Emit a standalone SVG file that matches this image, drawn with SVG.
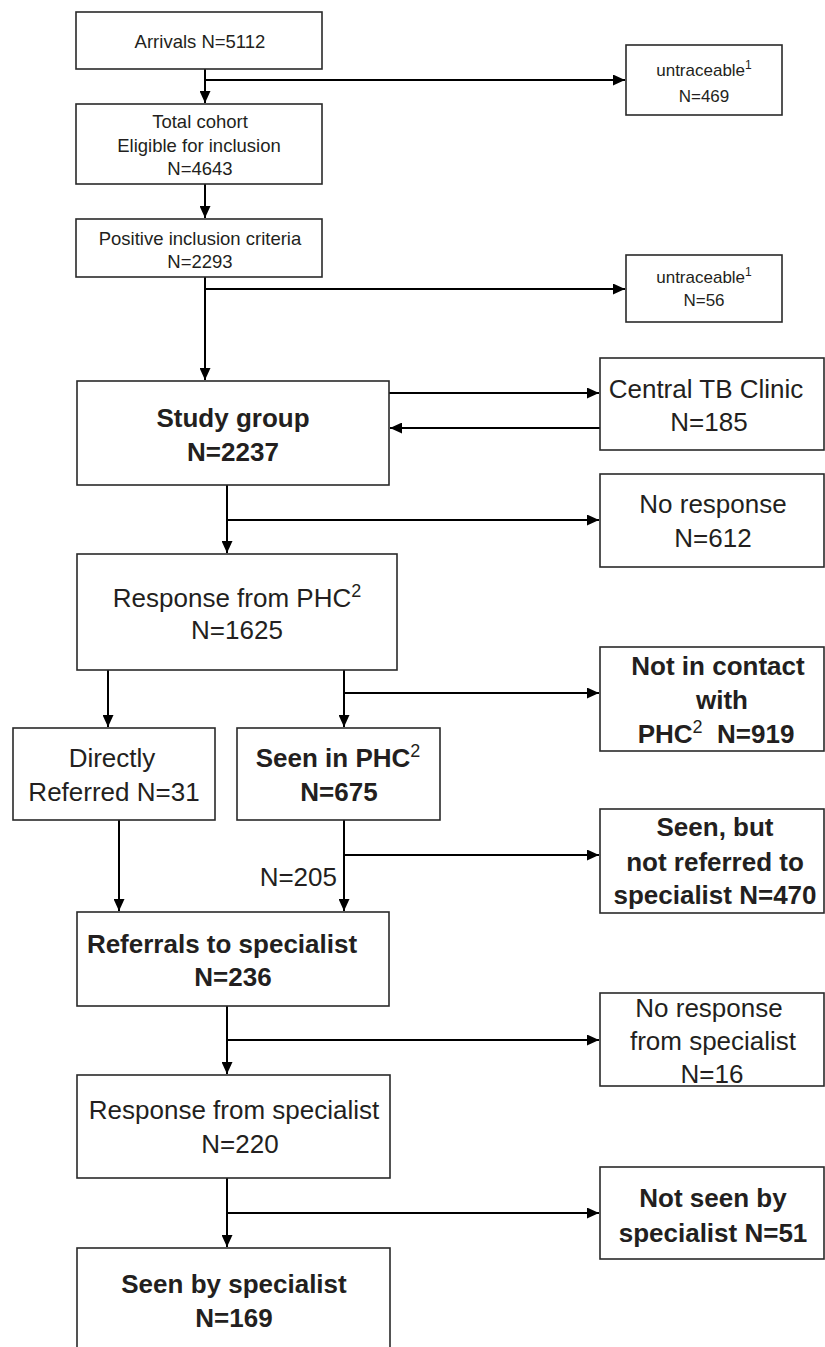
<svg xmlns="http://www.w3.org/2000/svg" width="825" height="1347" viewBox="0 0 825 1347">
<style>
.box{fill:#fff;stroke:#2a2a2a;stroke-width:1.6}
.t{font-family:"Liberation Sans",Arial,sans-serif;fill:#231f20;text-anchor:middle}
.s{font-size:18.5px}
.m{font-size:17px}
.l{font-size:26px}
.b{font-weight:bold}
.c{fill:none;stroke:#000;stroke-width:2}
</style>
<defs>
<marker id="ah" markerUnits="userSpaceOnUse" markerWidth="12" markerHeight="11" refX="12" refY="5.5" orient="auto">
<path d="M0,0 L12,5.5 L0,11 z" fill="#000"/>
</marker>
</defs>
<rect width="825" height="1347" fill="#fff"/>
<g id="connectors">
<path class="c" d="M205,69 V103" marker-end="url(#ah)"/>
<path class="c" d="M205,80 H625" marker-end="url(#ah)"/>
<path class="c" d="M205,184 V218" marker-end="url(#ah)"/>
<path class="c" d="M205,277 V380" marker-end="url(#ah)"/>
<path class="c" d="M205,289 H625" marker-end="url(#ah)"/>
<path class="c" d="M386,393 H599" marker-end="url(#ah)"/>
<path class="c" d="M600,428 H390" marker-end="url(#ah)"/>
<path class="c" d="M227,485 V553" marker-end="url(#ah)"/>
<path class="c" d="M227,520 H599" marker-end="url(#ah)"/>
<path class="c" d="M108,670 V727" marker-end="url(#ah)"/>
<path class="c" d="M344,670 V727" marker-end="url(#ah)"/>
<path class="c" d="M344,693 H599" marker-end="url(#ah)"/>
<path class="c" d="M119,820 V911" marker-end="url(#ah)"/>
<path class="c" d="M344,820 V911" marker-end="url(#ah)"/>
<path class="c" d="M344,855 H599" marker-end="url(#ah)"/>
<path class="c" d="M227,1006 V1074" marker-end="url(#ah)"/>
<path class="c" d="M227,1040 H599" marker-end="url(#ah)"/>
<path class="c" d="M227,1178 V1247" marker-end="url(#ah)"/>
<path class="c" d="M227,1213 H599" marker-end="url(#ah)"/>
<text class="t l" x="337" y="886" style="text-anchor:end">N=205</text>
</g>
<g id="arrivals">
<rect class="box" x="76" y="12" width="246" height="57"/>
<text class="t s" x="200" y="48">Arrivals N=5112</text>
</g>
<g id="untraceable1">
<rect class="box" x="626" y="45" width="156" height="70"/>
<text class="t m" x="704" y="76">untraceable<tspan font-size="12" dy="-7">1</tspan></text>
<text class="t m" x="704" y="102">N=469</text>
</g>
<g id="total-cohort">
<rect class="box" x="76" y="104" width="246" height="80"/>
<text class="t s" x="200" y="128">Total cohort</text>
<text class="t s" x="199" y="152">Eligible for inclusion</text>
<text class="t s" x="200" y="175">N=4643</text>
</g>
<g id="positive">
<rect class="box" x="76" y="219" width="246" height="58"/>
<text class="t s" x="200" y="245">Positive inclusion criteria</text>
<text class="t s" x="200" y="268">N=2293</text>
</g>
<g id="untraceable2">
<rect class="box" x="626" y="255" width="156" height="67"/>
<text class="t m" x="704" y="283">untraceable<tspan font-size="12" dy="-7">1</tspan></text>
<text class="t m" x="704" y="306">N=56</text>
</g>
<g id="study-group">
<rect class="box" x="77" y="381" width="312" height="104"/>
<text class="t l b" x="233" y="427">Study group</text>
<text class="t l b" x="233" y="461">N=2237</text>
</g>
<g id="central-tb">
<rect class="box" x="600" y="358" width="224" height="92"/>
<text class="t l" x="706" y="398">Central TB Clinic</text>
<text class="t l" x="709" y="431">N=185</text>
</g>
<g id="no-response">
<rect class="box" x="600" y="474" width="224" height="93"/>
<text class="t l" x="713" y="513">No response</text>
<text class="t l" x="713" y="547">N=612</text>
</g>
<g id="response-phc">
<rect class="box" x="77" y="554" width="320" height="116"/>
<text class="t l" x="237" y="607">Response from PHC<tspan font-size="18" dy="-10">2</tspan></text>
<text class="t l" x="237" y="639">N=1625</text>
</g>
<g id="directly-referred">
<rect class="box" x="13" y="728" width="202" height="92"/>
<text class="t l" x="112" y="767">Directly</text>
<text class="t l" x="114" y="801">Referred N=31</text>
</g>
<g id="seen-phc">
<rect class="box" x="237" y="728" width="203" height="92"/>
<text class="t l b" x="338" y="767">Seen in PHC<tspan font-size="18" font-weight="normal" dy="-10">2</tspan></text>
<text class="t l b" x="339" y="801">N=675</text>
</g>
<g id="not-in-contact">
<rect class="box" x="600" y="647" width="224" height="104"/>
<text class="t l b" x="718" y="675">Not in contact</text>
<text class="t l b" x="722" y="709">with</text>
<text class="t l b" x="716" y="743">PHC<tspan font-size="18" font-weight="normal" dy="-10">2</tspan><tspan dy="10">&#160; N=919</tspan></text>
</g>
<g id="seen-not-referred">
<rect class="box" x="600" y="809" width="224" height="104"/>
<text class="t l b" x="715" y="836">Seen, but</text>
<text class="t l b" x="715" y="871">not referred to</text>
<text class="t l b" x="715" y="904">specialist N=470</text>
</g>
<g id="referrals">
<rect class="box" x="77" y="912" width="312" height="94"/>
<text class="t l b" x="222" y="953">Referrals to specialist</text>
<text class="t l b" x="233" y="986">N=236</text>
</g>
<g id="no-response-specialist">
<rect class="box" x="600" y="993" width="224" height="93"/>
<text class="t l" x="709" y="1017">No response</text>
<text class="t l" x="713" y="1050">from specialist</text>
<text class="t l" x="712" y="1083">N=16</text>
</g>
<g id="response-specialist">
<rect class="box" x="77" y="1075" width="313" height="103"/>
<text class="t l" x="234" y="1119">Response from specialist</text>
<text class="t l" x="240" y="1153">N=220</text>
</g>
<g id="not-seen">
<rect class="box" x="600" y="1167" width="224" height="92"/>
<text class="t l b" x="713" y="1207">Not seen by</text>
<text class="t l b" x="713" y="1242">specialist N=51</text>
</g>
<g id="seen-specialist">
<rect class="box" x="77" y="1248" width="313" height="110"/>
<text class="t l b" x="234" y="1293">Seen by specialist</text>
<text class="t l b" x="234" y="1327">N=169</text>
</g>
</svg>
